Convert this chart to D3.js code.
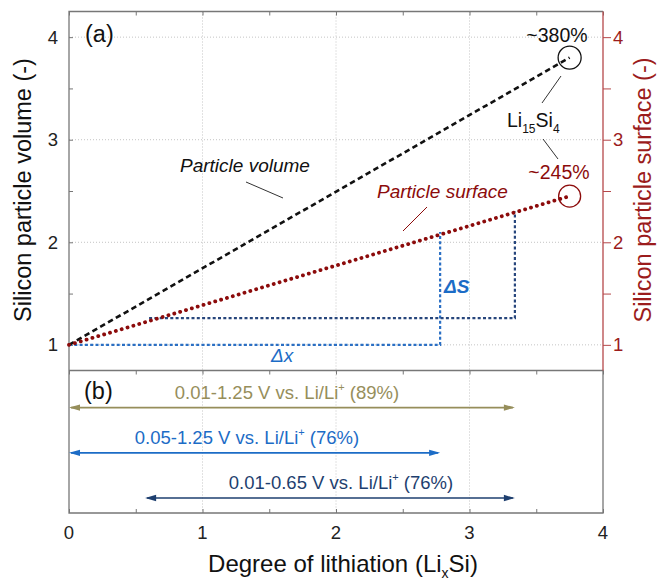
<!DOCTYPE html>
<html>
<head>
<meta charset="utf-8">
<script src="https://cdn.jsdelivr.net/npm/d3@7"></script>
<style>
  body { margin: 0; background: #fff; }
  svg { display: block; }
  text { font-family: "Liberation Sans", Arial, Helvetica, sans-serif; }
</style>
</head>
<body>
<svg id="chart" width="657" height="580"></svg>
<script>
// ---- data ----
const xTickValues = [0, 1, 2, 3, 4];
const xMinorTicks = [0.5, 1.5, 2.5, 3.5];
const yTickValues = [1, 2, 3, 4];
const yMinorTicks = [1.5, 2.5, 3.5];

// relative volume and surface of a Si particle vs. degree of lithiation
const volumeLine = [[0, 1], [3.75, 3.8]];
const surfaceLine = [[0, 1], [3.75, 2.45]];

// voltage windows: lithiation range in x (LixSi)
const windowStart = [0, 0, 0.57];
const windowEnd = [3.34, 2.78, 3.34];
const windowLabels = ["0.01-1.25 V vs. Li/Li", "0.05-1.25 V vs. Li/Li", "0.01-0.65 V vs. Li/Li"];
const windowShare = ["(89%)", "(76%)", "(76%)"];
const windowColors = ["#968e5b", "#1c6cc6", "#1e3f6f"];

// Δx / ΔS construction boxes
const boxStart = [0, 0.6];
const boxEnd = [2.78, 3.34];
const boxBase = [1, 1.26];
const boxTop = [2.1, 2.3];
const boxColors = ["#2a6fc4", "#27467c"];

// ---- layout ----
const svg = d3.select("#chart");
const L = 69, R = 603, topA = 11.5, botA = 370.5, botB = 513;
const surfRed = "#8c0b0b";
const axisGray = "#777";

const x = d3.scaleLinear().domain([0, 4]).range([L, R]);
const y = d3.scaleLinear().domain([0.75, 4.25]).range([botA, topA]);
const yB = d3.scaleLinear().domain([-0.82, 2.33]).range([botA, botB]);

// grid lines
const grid = svg.append("g").attr("stroke", "#c4c4c4").attr("stroke-width", 1).attr("stroke-dasharray", "1,2");
grid.selectAll(".gx").data([1, 2, 3]).join("line")
  .attr("x1", d => x(d)).attr("x2", d => x(d)).attr("y1", topA).attr("y2", botB);
grid.selectAll(".gy").data(yTickValues).join("line")
  .attr("x1", L).attr("x2", R).attr("y1", d => y(d)).attr("y2", d => y(d));

// ---- panel (a) axes ----
const allX = xTickValues.concat(xMinorTicks);
const allY = yTickValues.concat(yMinorTicks);

// left axis (inward ticks)
const leftAxis = svg.append("g").attr("transform", `translate(${L},0)`)
  .call(d3.axisLeft(y).tickValues(allY).tickSize(-4).tickFormat(""));
leftAxis.select(".domain").remove();
leftAxis.selectAll("line").attr("stroke", axisGray);
svg.append("g").selectAll("text").data(yTickValues).join("text")
  .attr("x", 58).attr("y", d => y(d) + 6.5).attr("text-anchor", "end")
  .attr("font-size", 18.5).attr("fill", "#222").text(d => d);

// top axis (inward ticks)
const topAxis = svg.append("g").attr("transform", `translate(0,${topA})`)
  .call(d3.axisTop(x).tickValues(allX).tickSize(-4).tickFormat(""));
topAxis.select(".domain").remove();
topAxis.selectAll("line").attr("stroke", axisGray);

// right axis (surface, red, outward ticks)
const rightAxis = svg.append("g").attr("transform", `translate(${R},0)`)
  .call(d3.axisRight(y).tickValues(allY).tickSize(8).tickFormat(""));
rightAxis.select(".domain").remove();
rightAxis.selectAll("line").attr("stroke", "#b5474a");
svg.append("g").selectAll("text").data(yTickValues).join("text")
  .attr("x", 613).attr("y", d => y(d) + 6.5).attr("text-anchor", "start")
  .attr("font-size", 18.5).attr("fill", "#9b1c1c").text(d => d);

// ---- panel (b) axes ----
const bTop = svg.append("g").attr("transform", `translate(0,${botA})`)
  .call(d3.axisBottom(x).tickValues(allX).tickSize(4).tickFormat(""));
bTop.select(".domain").remove();
bTop.selectAll("line").attr("stroke", axisGray);
const bBot = svg.append("g").attr("transform", `translate(0,${botB})`)
  .call(d3.axisTop(x).tickValues(allX).tickSize(4).tickFormat(""));
bBot.select(".domain").remove();
bBot.selectAll("line").attr("stroke", axisGray);
svg.append("g").selectAll("text").data(xTickValues).join("text")
  .attr("x", d => x(d)).attr("y", 539).attr("text-anchor", "middle")
  .attr("font-size", 18.5).attr("fill", "#222").text(d => d);

// frames
const frame = svg.append("g").attr("fill", "none").attr("stroke-width", 1.3);
frame.append("path").attr("stroke", axisGray)
  .attr("d", `M${R},${topA}H${L}V${botB}H${R}V${botA}H${L}`);
frame.append("line").attr("stroke", "#b5474a")
  .attr("x1", R).attr("x2", R).attr("y1", topA).attr("y2", botA);

// ---- panel (a) marks ----
const line = d3.line().x(d => x(d[0])).y(d => y(d[1]));

// Δx / ΔS boxes
boxStart.forEach((s, i) => {
  const pts = [[s, boxBase[i]], [boxEnd[i], boxBase[i]], [boxEnd[i], boxTop[i]]];
  svg.append("path").attr("d", line(pts)).attr("fill", "none")
    .attr("stroke", boxColors[i]).attr("stroke-width", 2.2).attr("stroke-dasharray", "3,2.3");
});

svg.append("path").attr("d", line(volumeLine)).attr("fill", "none")
  .attr("stroke", "#111").attr("stroke-width", 2.6).attr("stroke-dasharray", "5.5,3.5");
svg.append("path").attr("d", line(surfaceLine)).attr("fill", "none")
  .attr("stroke", surfRed).attr("stroke-width", 3.8).attr("stroke-linecap", "round")
  .attr("stroke-dasharray", "0.1,6");

// end-point circles
const vEnd = volumeLine[volumeLine.length - 1];
const sEnd = surfaceLine[surfaceLine.length - 1];
svg.append("circle").attr("cx", x(vEnd[0])).attr("cy", y(vEnd[1])).attr("r", 11.5)
  .attr("fill", "none").attr("stroke", "#111").attr("stroke-width", 1.3);
svg.append("circle").attr("cx", x(sEnd[0])).attr("cy", y(sEnd[1])).attr("r", 11)
  .attr("fill", "none").attr("stroke", surfRed).attr("stroke-width", 1.3);

// annotations
const ann = svg.append("g");
ann.append("text").attr("x", 557).attr("y", 42).attr("text-anchor", "middle")
  .attr("font-size", 19.5).attr("fill", "#111").text("~380%");
ann.append("text").attr("x", 559).attr("y", 179).attr("text-anchor", "middle")
  .attr("font-size", 19.5).attr("fill", surfRed).text("~245%");
const li = ann.append("text").attr("x", 507).attr("y", 127).attr("font-size", 19.5).attr("fill", "#111");
li.append("tspan").text("Li");
li.append("tspan").attr("font-size", 12).attr("dy", 6).text("15");
li.append("tspan").attr("dy", -6).text("Si");
li.append("tspan").attr("font-size", 12).attr("dy", 6).text("4");

ann.append("text").attr("x", 180).attr("y", 172).attr("font-size", 19).attr("font-style", "italic")
  .attr("fill", "#111").text("Particle volume");
ann.append("text").attr("x", 377).attr("y", 198).attr("font-size", 19).attr("font-style", "italic")
  .attr("fill", surfRed).text("Particle surface");
ann.append("text").attr("x", 444).attr("y", 293).attr("font-size", 19).attr("font-style", "italic")
  .attr("font-weight", "bold").attr("fill", "#1c6cc6").text("ΔS");
ann.append("text").attr("x", 271).attr("y", 362).attr("font-size", 19).attr("font-style", "italic")
  .attr("fill", "#1c6cc6").text("Δx");

// leader lines
const leaders = [
  [561, 76, 542, 103, "#333"],
  [543, 139, 558, 159, "#333"],
  [246, 182, 283, 198, "#333"],
  [427, 207, 403, 231, surfRed]
];
ann.selectAll(".lead").data(leaders).join("line")
  .attr("x1", d => d[0]).attr("y1", d => d[1]).attr("x2", d => d[2]).attr("y2", d => d[3])
  .attr("stroke", d => d[4]).attr("stroke-width", 1);

// panel labels
svg.append("text").attr("x", 85).attr("y", 42).attr("font-size", 23.5).attr("fill", "#111").text("(a)");
svg.append("text").attr("x", 84).attr("y", 399).attr("font-size", 23.5).attr("fill", "#111").text("(b)");

// ---- panel (b) arrows ----
const headLen = 11, headHalf = 3.2;
windowStart.forEach((s, i) => {
  const yy = yB(i), x0 = x(s), x1 = x(windowEnd[i]), c = windowColors[i];
  const g = svg.append("g");
  g.append("line").attr("x1", x0 + 2).attr("x2", x1 - 2).attr("y1", yy).attr("y2", yy)
    .attr("stroke", c).attr("stroke-width", 1.6);
  g.append("path").attr("fill", c)
    .attr("d", `M${x0},${yy}L${x0 + headLen},${yy - headHalf}L${x0 + headLen},${yy + headHalf}Z`);
  g.append("path").attr("fill", c)
    .attr("d", `M${x1},${yy}L${x1 - headLen},${yy - headHalf}L${x1 - headLen},${yy + headHalf}Z`);
});
const labelCenter = [287, 247, 341];
windowLabels.forEach((t, i) => {
  const txt = svg.append("text").attr("x", labelCenter[i]).attr("y", yB(i) - 9)
    .attr("text-anchor", "middle").attr("font-size", 18.5).attr("fill", windowColors[i]);
  txt.append("tspan").text(t);
  txt.append("tspan").attr("font-size", 11).attr("dy", -8).text("+");
  txt.append("tspan").attr("dy", 8).text(" " + windowShare[i]);
});

// ---- axis titles ----
const xt = svg.append("text").attr("x", 343).attr("y", 572).attr("text-anchor", "middle")
  .attr("font-size", 24).attr("fill", "#111");
xt.append("tspan").text("Degree of lithiation (Li");
xt.append("tspan").attr("font-size", 14).attr("dy", 6).text("x");
xt.append("tspan").attr("dy", -6).text("Si)");

svg.append("text").attr("transform", "translate(31,190) rotate(-90)").attr("text-anchor", "middle")
  .attr("font-size", 23.5).attr("fill", "#111").text("Silicon particle volume (-)");
svg.append("text").attr("transform", "translate(651,190) rotate(-90)").attr("text-anchor", "middle")
  .attr("font-size", 23.5).attr("fill", "#9b1c1c").text("Silicon particle surface (-)");
</script>
</body>
</html>
